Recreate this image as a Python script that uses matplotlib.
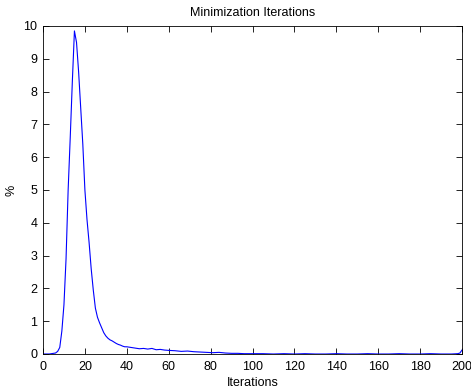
import matplotlib
matplotlib.use("Agg")
import matplotlib.pyplot as plt

# values (iteration, percent)
head_iters = list(range(0, 41))
head_pct = [0, 0, 0, 0, 0.01, 0.02, 0.03, 0.08, 0.2, 0.7,
            1.5, 2.9, 5.0, 6.6, 8.3, 9.85, 9.5, 8.6, 7.5, 6.4,
            5.0, 4.1, 3.4, 2.6, 1.95, 1.4, 1.12, 0.95, 0.8, 0.65,
            0.55, 0.48, 0.43, 0.4, 0.36, 0.32, 0.29, 0.27, 0.24, 0.22, 0.22]
tail_iters = [42, 44, 46, 48, 50, 52, 54, 56, 58, 60, 63, 66, 69, 72, 75,
              78, 81, 84, 87, 90, 93, 96, 100, 105, 110, 115, 120, 125, 130,
              135, 140, 145, 150, 155, 160, 165, 170, 175, 180, 185, 190,
              195, 198, 199, 200]
tail_pct = [0.2, 0.18, 0.16, 0.17, 0.15, 0.17, 0.13, 0.14, 0.12, 0.11, 0.1,
            0.08, 0.09, 0.07, 0.06, 0.05, 0.04, 0.05, 0.03, 0.02, 0.02, 0.01,
            0.01, 0.01, 0.0, 0.01, 0.0, 0.01, 0.0, 0.0, 0.01, 0.0, 0.0, 0.01,
            0.0, 0.0, 0.01, 0.0, 0.0, 0.01, 0.0, 0.0, 0.01, 0.03, 0.12]

iters = head_iters + tail_iters
pct = head_pct + tail_pct

plt.rcParams['font.family'] = ['Liberation Sans', 'DejaVu Sans']
plt.rcParams['font.size'] = 9

fig = plt.figure(figsize=(4.71, 3.89), dpi=100)
ax = fig.add_axes([43 / 471, 35 / 389, 419 / 471, 328 / 389])
ax.plot(iters, pct, color='#0000ff', linewidth=0.8)

ax.set_xlim(0, 200)
ax.set_ylim(0, 10)
ax.set_xticks(range(0, 201, 20))
ax.set_yticks(range(0, 11))
ax.tick_params(direction='in', length=4, width=0.6, top=True, right=True)
ax.tick_params(axis='x', pad=5)
ax.tick_params(axis='y', pad=4)
for s in ax.spines.values():
    s.set_linewidth(0.6)

ax.set_title('Minimization Iterations', fontsize=9, pad=7)
ax.set_xlabel('Iterations', labelpad=3)
ax.set_ylabel('%', labelpad=4)

fig.savefig('out.png', dpi=100, facecolor='white')
